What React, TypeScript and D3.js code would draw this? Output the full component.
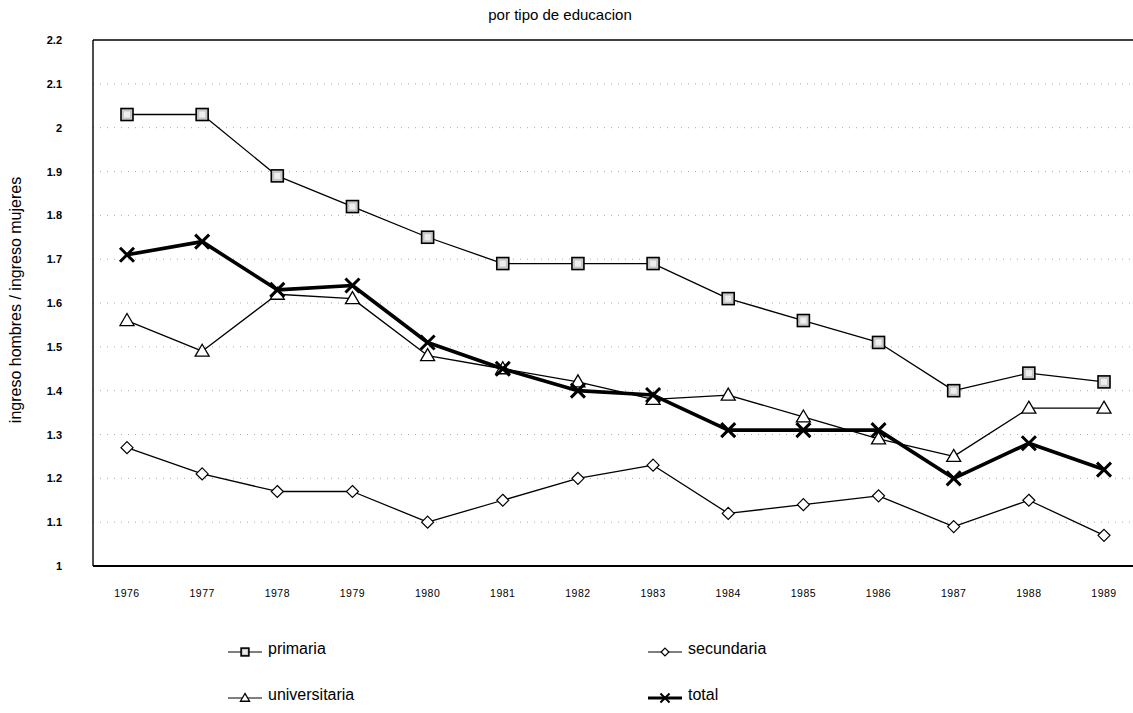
import React from "react"
import { scaleLinear, scalePoint, line } from "d3"

// valores
const years = ["1976", "1977", "1978", "1979", "1980", "1981", "1982", "1983", "1984", "1985", "1986", "1987", "1988", "1989"]
const primaria = [2.03, 2.03, 1.89, 1.82, 1.75, 1.69, 1.69, 1.69, 1.61, 1.56, 1.51, 1.4, 1.44, 1.42]
const secundaria = [1.27, 1.21, 1.17, 1.17, 1.1, 1.15, 1.2, 1.23, 1.12, 1.14, 1.16, 1.09, 1.15, 1.07]
const universitaria = [1.56, 1.49, 1.62, 1.61, 1.48, 1.45, 1.42, 1.38, 1.39, 1.34, 1.29, 1.25, 1.36, 1.36]
const total = [1.71, 1.74, 1.63, 1.64, 1.51, 1.45, 1.4, 1.39, 1.31, 1.31, 1.31, 1.2, 1.28, 1.22]
const yTicks = [1, 1.1, 1.2, 1.3, 1.4, 1.5, 1.6, 1.7, 1.8, 1.9, 2, 2.1, 2.2]
const yTickLabels = ["1", "1.1", "1.2", "1.3", "1.4", "1.5", "1.6", "1.7", "1.8", "1.9", "2", "2.1", "2.2"]

const W = 1133
const H = 713
const left = 93
const top = 40
const bottom = 566
const font = "Liberation Sans, Arial, sans-serif"

function Marker({ kind, x, y, s = 1 }: { kind: string; x: number; y: number; s?: number }) {
  if (kind === "square") {
    return (
      <g>
        <rect x={x - 6 * s} y={y - 6 * s} width={12 * s} height={12 * s} fill="#c8c8c8" stroke="#000" strokeWidth={1.6} />
        <rect x={x - 3 * s} y={y - 3 * s} width={6 * s} height={6 * s} fill="#eee" stroke="none" />
      </g>
    )
  }
  if (kind === "triangle") {
    return <path d={`M${x},${y - 7 * s} L${x + 7 * s},${y + 5 * s} L${x - 7 * s},${y + 5 * s} Z`} fill="#fff" stroke="#000" strokeWidth={1.3} />
  }
  if (kind === "diamond") {
    return <path d={`M${x},${y - 6 * s} L${x + 6 * s},${y} L${x},${y + 6 * s} L${x - 6 * s},${y} Z`} fill="#fff" stroke="#000" strokeWidth={1.2} />
  }
  return (
    <path
      d={`M${x - 7 * s},${y - 7 * s} L${x + 7 * s},${y + 7 * s} M${x + 7 * s},${y - 7 * s} L${x - 7 * s},${y + 7 * s}`}
      stroke="#000"
      strokeWidth={3 * s}
    />
  )
}

const series = [
  { name: "primaria", values: primaria, kind: "square", width: 1.3 },
  { name: "secundaria", values: secundaria, kind: "diamond", width: 1.3 },
  { name: "universitaria", values: universitaria, kind: "triangle", width: 1.3 },
  { name: "total", values: total, kind: "x", width: 3.6 },
]

export default function App() {
  const x = scalePoint<string>().domain(years).range([127, 1104])
  const y = scaleLinear().domain([1, 2.2]).range([bottom, top])

  const path = line<number>()
    .x((_, i) => x(years[i]) as number)
    .y((d) => y(d))

  const legendPos = [
    { lx: 228, ly: 652 },
    { lx: 648, ly: 652 },
    { lx: 228, ly: 698 },
    { lx: 648, ly: 698 },
  ]

  return (
    <svg width={W} height={H} style={{ position: "absolute", left: 0, top: 0, background: "#fff" }}>
      <text x={560} y={20} textAnchor="middle" fontFamily={font} fontSize={15}>
        por tipo de educacion
      </text>

      {/* grilla punteada */}
      {yTicks.slice(1, -1).map((t) => (
        <line key={t} x1={left} x2={W} y1={y(t)} y2={y(t)} stroke="#aaa" strokeWidth={1} strokeDasharray="1 6" />
      ))}

      {/* marco */}
      <line x1={left} x2={W} y1={top} y2={top} stroke="#000" strokeWidth={1.6} />
      <line x1={left} x2={left} y1={top} y2={bottom} stroke="#000" strokeWidth={1.4} />
      <line x1={left} x2={W} y1={bottom} y2={bottom} stroke="#000" strokeWidth={1.8} />

      {yTicks.map((t, i) => (
        <text key={t} x={62} y={y(t) + 4} textAnchor="end" fontFamily={font} fontSize={11} fontWeight="bold">
          {yTickLabels[i]}
        </text>
      ))}

      {years.map((yr) => (
        <text key={yr} x={x(yr)} y={597} textAnchor="middle" fontFamily={font} fontSize={10.5} letterSpacing={0.5}>
          {yr}
        </text>
      ))}

      <text
        transform={`translate(21,${(top + bottom) / 2 - 3}) rotate(-90)`}
        textAnchor="middle"
        fontFamily={font}
        fontSize={16}
      >
        ingreso hombres / ingreso mujeres
      </text>

      {series.map((s) => (
        <g key={s.name}>
          <path d={path(s.values) as string} fill="none" stroke="#000" strokeWidth={s.width} strokeLinejoin="round" />
          {s.values.map((v, i) => (
            <Marker key={i} kind={s.kind} x={x(years[i]) as number} y={y(v)} />
          ))}
        </g>
      ))}

      {/* leyenda */}
      {series.map((s, i) => {
        const p = legendPos[i]
        return (
          <g key={s.name}>
            <line x1={p.lx} x2={p.lx + 34} y1={p.ly} y2={p.ly} stroke="#000" strokeWidth={s.width * 0.8} />
            <Marker kind={s.kind} x={p.lx + 17} y={p.ly} s={0.65} />
            <text x={p.lx + 40} y={p.ly + 2} fontFamily={font} fontSize={16}>
              {s.name}
            </text>
          </g>
        )
      })}
    </svg>
  )
}
